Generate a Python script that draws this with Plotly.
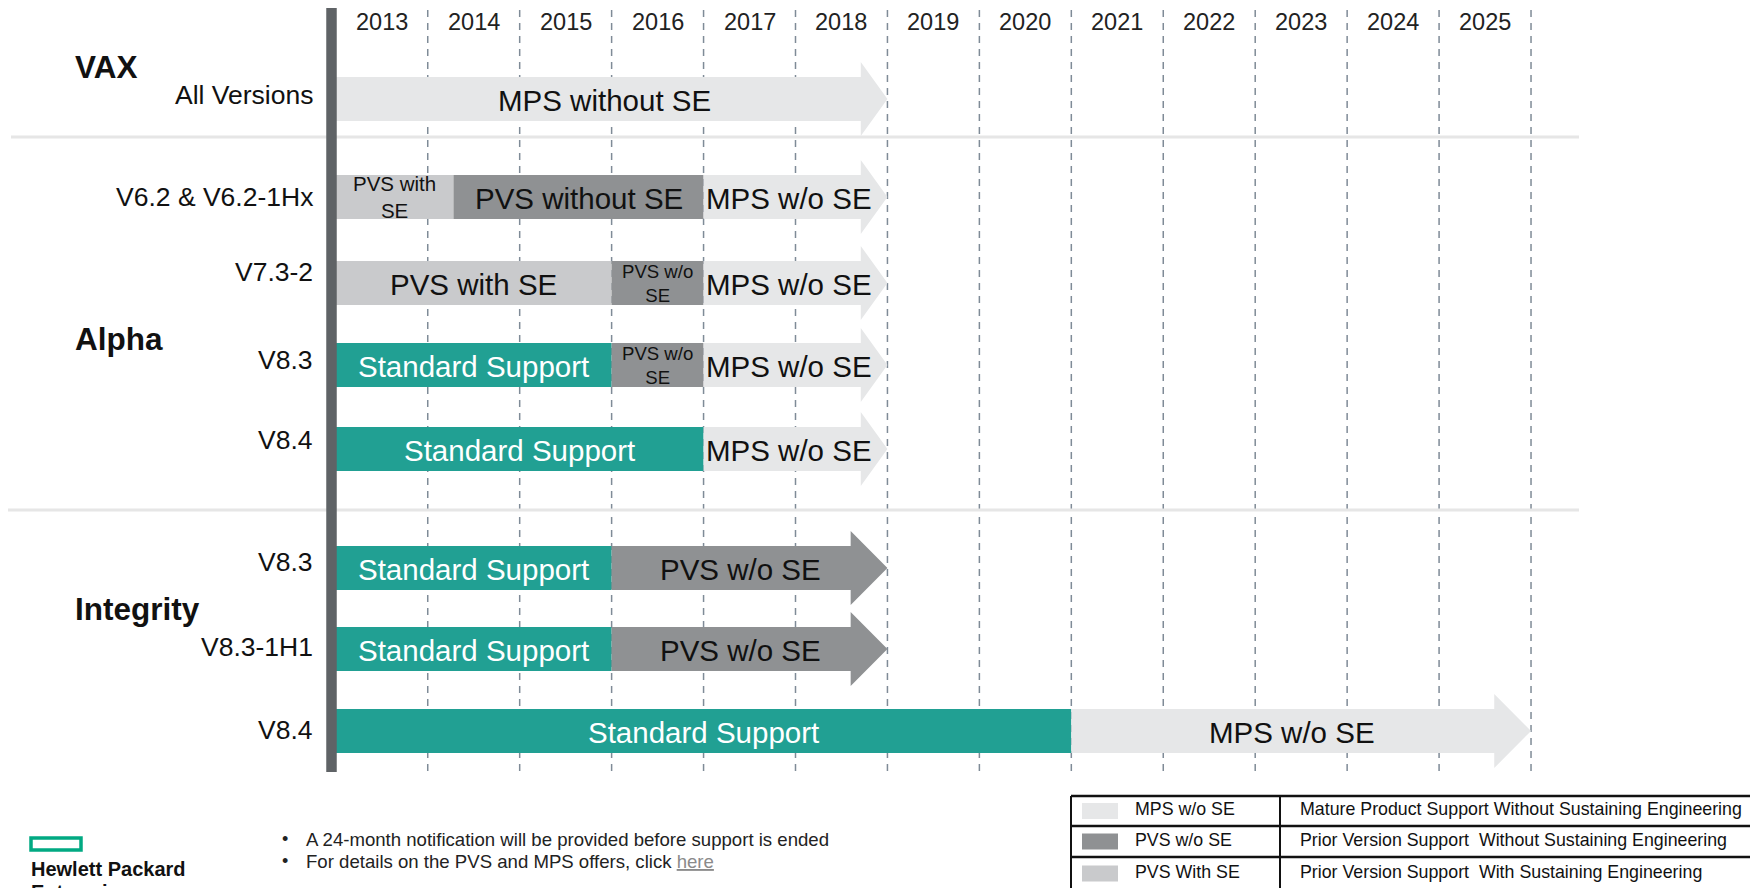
import plotly.graph_objects as go

# ---------------- data ----------------
years = [2013, 2014, 2015, 2016, 2017, 2018, 2019, 2020, 2021, 2022, 2023, 2024, 2025]
year_labels = [str(y) for y in years]

row_labels = ["All Versions", "V6.2 & V6.2-1Hx", "V7.3-2", "V8.3", "V8.4",
              "V8.3", "V8.3-1H1", "V8.4"]
row_group = ["VAX", "Alpha", "Alpha", "Alpha", "Alpha",
             "Integrity", "Integrity", "Integrity"]
groups = ["VAX", "Alpha", "Integrity"]

seg_row = [0, 1, 1, 1, 2, 2, 2, 3, 3, 3, 4, 4, 5, 5, 6, 6, 7, 7]
seg_start = [2013.0, 2013.0, 2014.28, 2017.0, 2013.0, 2016.0, 2017.0, 2013.0, 2016.0,
             2017.0, 2013.0, 2017.0, 2013.0, 2016.0, 2013.0, 2016.0, 2013.0, 2021.0]
seg_end = [2019.0, 2014.28, 2017.0, 2019.0, 2016.0, 2017.0, 2019.0, 2016.0, 2017.0,
           2019.0, 2017.0, 2019.0, 2016.0, 2019.0, 2016.0, 2019.0, 2021.0, 2026.0]
seg_kind = ["MPS", "PVS_SE", "PVS_NOSE", "MPS", "PVS_SE", "PVS_NOSE", "MPS", "STD",
            "PVS_NOSE", "MPS", "STD", "MPS", "STD", "PVS_NOSE", "STD", "PVS_NOSE",
            "STD", "MPS"]
seg_text = ["MPS without SE", "PVS with<br>SE", "PVS without SE", "MPS w/o SE",
            "PVS with SE", "PVS w/o<br>SE", "MPS w/o SE", "Standard Support",
            "PVS w/o<br>SE", "MPS w/o SE", "Standard Support", "MPS w/o SE",
            "Standard Support", "PVS w/o SE", "Standard Support", "PVS w/o SE",
            "Standard Support", "MPS w/o SE"]

legend_codes = ["MPS w/o SE", "PVS w/o SE", "PVS With SE"]
legend_kinds = ["MPS", "PVS_NOSE", "PVS_SE"]
legend_desc = ["Mature Product Support Without Sustaining Engineering",
               "Prior Version Support  Without Sustaining Engineering",
               "Prior Version Support  With Sustaining Engineering"]

notes = ["A 24-month notification will be provided before support is ended",
         "For details on the PVS and MPS offers, click "
         "<span style='color:#8a8a8a'><u>here</u></span>"]

# ---------------- layout / style ----------------
PAGE_W, PAGE_H = 1758, 888
OFF = 8                                 # default page body margin
W, H = PAGE_W - OFF, PAGE_H - OFF
X0_PX, YEAR_PX = 335.8, 91.94          # page pixel of 2013.0, pixels per year
FONT = "Liberation Sans, Arial, sans-serif"

def px2x(px):
    return 2013 + (px - X0_PX) / YEAR_PX

kind_color = {"MPS": "#e6e7e8", "PVS_SE": "#c9cacc", "PVS_NOSE": "#8f9193",
              "STD": "#21a093"}
kind_font = {"MPS": "#111111", "PVS_SE": "#111111", "PVS_NOSE": "#111111",
             "STD": "#ffffff"}
row_y = [99, 197, 283, 365, 449, 568, 649, 731]
label_y = [95, 197, 272, 360, 440, 562, 647, 730]
group_y = {"VAX": 67, "Alpha": 339, "Integrity": 609}
head_len = {"VAX": 0.29, "Alpha": 0.29, "Integrity": 0.4}
BODY_H, HEAD_H = 22, 37

fig = go.Figure()
shapes, annots = [], []

# dashed year boundaries
for y in years:
    shapes.append(dict(type="line", xref="x", yref="y", x0=y + 1, x1=y + 1,
                       y0=10, y1=773, layer="below",
                       line=dict(color="#7f8b97", width=1.5, dash="7px,6px")))
# separators
for sy, sx in [(137, 11), (510, 5)]:
    shapes.append(dict(type="line", xref="x", yref="y", x0=px2x(sx), x1=px2x(1579),
                       y0=sy, y1=sy, layer="below",
                       line=dict(color="#e6e6e6", width=3)))

# year labels
for y, t in zip(years, year_labels):
    annots.append(dict(x=y + 0.5, y=22, xref="x", yref="y", text=t, showarrow=False,
                       font=dict(family=FONT, size=23.5, color="#222222")))

# segments
last_of_row = {}
for i, r in enumerate(seg_row):
    last_of_row[r] = i
for i, r in enumerate(seg_row):
    yc = row_y[r]
    s, e = seg_start[i], seg_end[i]
    if last_of_row[r] == i:
        hl = head_len[row_group[r]]
        be = e - hl
        xs = [s, be, be, e, be, be, s, s]
        ys = [yc - BODY_H, yc - BODY_H, yc - HEAD_H, yc, yc + HEAD_H, yc + BODY_H,
              yc + BODY_H, yc - BODY_H]
        tx = (s + e - hl / 2) / 2
    else:
        xs = [s, e, e, s, s]
        ys = [yc - BODY_H, yc - BODY_H, yc + BODY_H, yc + BODY_H, yc - BODY_H]
        tx = (s + e) / 2
    fig.add_trace(go.Scatter(x=xs, y=ys, mode="lines", fill="toself",
                             fillcolor=kind_color[seg_kind[i]],
                             line=dict(width=0, color=kind_color[seg_kind[i]]),
                             hoverinfo="skip", showlegend=False))
    small = "<br>" in seg_text[i]
    fsize = 29.5
    if small:
        fsize = 18.6 if "w/o" in seg_text[i] else 20.5
    annots.append(dict(x=tx, y=yc + (0 if small else 1), xref="x", yref="y",
                       text=seg_text[i], showarrow=False,
                       font=dict(family=FONT, size=fsize, color=kind_font[seg_kind[i]])))

# thick vertical axis bar
shapes.append(dict(type="line", xref="x", yref="y", x0=px2x(331.5), x1=px2x(331.5),
                   y0=8, y1=772, line=dict(color="#5f6366", width=10.5)))

# row labels
for lbl, ly in zip(row_labels, label_y):
    annots.append(dict(x=px2x(315), y=ly, xref="x", yref="y", text=lbl,
                       showarrow=False, xanchor="right",
                       font=dict(family=FONT, size=26.5, color="#111111")))
# group labels
for g in groups:
    annots.append(dict(x=px2x(73), y=group_y[g], xref="x", yref="y",
                       text="<b>%s</b>" % g, showarrow=False, xanchor="left",
                       font=dict(family=FONT, size=31.5, color="#111111")))

# footer notes
for t, ny in zip(notes, [839, 861]):
    annots.append(dict(x=px2x(285), y=ny, xref="x", yref="y", text="•",
                       showarrow=False, xanchor="center",
                       font=dict(family=FONT, size=18, color="#222222")))
    annots.append(dict(x=px2x(304), y=ny, xref="x", yref="y", text=t,
                       showarrow=False, xanchor="left",
                       font=dict(family=FONT, size=18.6, color="#222222")))

# HPE logo
shapes.append(dict(type="rect", xref="x", yref="y", x0=px2x(31), x1=px2x(81),
                   y0=838, y1=850, line=dict(color="#01a982", width=3.5)))
annots.append(dict(x=px2x(29), y=869, xref="x", yref="y",
                   text="<b>Hewlett Packard</b>", showarrow=False, xanchor="left",
                   font=dict(family=FONT, size=20, color="#111111")))
annots.append(dict(x=px2x(29), y=879, xref="x", yref="y",
                   text="<b>Enterprise</b>", showarrow=False, xanchor="left",
                   yanchor="top",
                   font=dict(family=FONT, size=20, color="#111111")))

# legend table
TL, TR, TD = 1071, 1762, 1280
row_lines = [796, 826, 857, 890]
for ly in row_lines:
    shapes.append(dict(type="line", xref="x", yref="y", x0=px2x(TL), x1=px2x(TR),
                       y0=ly, y1=ly, line=dict(color="#111111", width=2.5)))
for lx in [TL, TD]:
    shapes.append(dict(type="line", xref="x", yref="y", x0=px2x(lx), x1=px2x(lx),
                       y0=row_lines[0], y1=row_lines[-1],
                       line=dict(color="#111111", width=2)))
for k in range(3):
    y_top, y_bot = row_lines[k], row_lines[k + 1]
    mid = (y_top + y_bot) / 2
    shapes.append(dict(type="rect", xref="x", yref="y", x0=px2x(1082), x1=px2x(1118),
                       y0=mid - 8, y1=mid + 8, line=dict(width=0),
                       fillcolor=kind_color[legend_kinds[k]]))
    annots.append(dict(x=px2x(1133), y=mid - 2, xref="x", yref="y",
                       text=legend_codes[k], showarrow=False, xanchor="left",
                       font=dict(family=FONT, size=17.8, color="#111111")))
    annots.append(dict(x=px2x(1298), y=mid - 2, xref="x", yref="y",
                       text=legend_desc[k], showarrow=False, xanchor="left",
                       font=dict(family=FONT, size=17.8, color="#111111")))

fig.update_layout(
    width=W, height=H, margin=dict(l=0, r=0, t=0, b=0),
    paper_bgcolor="white", plot_bgcolor="white",
    xaxis=dict(range=[px2x(OFF), px2x(PAGE_W)], visible=False, fixedrange=True),
    yaxis=dict(range=[PAGE_H, OFF], visible=False, fixedrange=True),
    shapes=shapes, annotations=annots, showlegend=False,
)

fig.write_html("out.html")
